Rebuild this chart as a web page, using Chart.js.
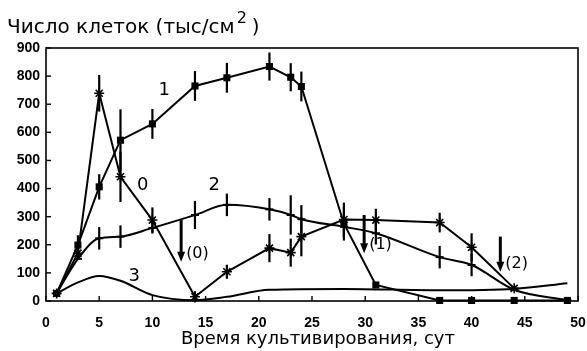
<!DOCTYPE html>
<html><head><meta charset="utf-8">
<script src="https://cdn.jsdelivr.net/npm/chart.js@4"></script>
<style>html,body{margin:0;padding:0;background:#fff}canvas{display:block}</style>
</head><body>
<canvas id="c" width="587" height="351"></canvas>
<script>
// ---- data ----
const days   = [1, 3, 5, 7, 10, 14, 17, 21, 23, 24, 28, 31, 37, 40, 44, 49];
const s1     = [27, 199, 406, 572, 630, 765, 794, 834, 796, 763, 275, 57, 2, 2, 2, 2];
const s1err  = [0, 35, 45, 110, 53, 53, 53, 50, 50, 53, 60, 10, 0, 0, 0, 0];
const s0     = [27, 170, 739, 442, 288, 15, 104, 188, 172, 229, 290, 288, 279, 191, 45, null];
const s0err  = [0, 20, 65, 90, 45, 20, 25, 50, 50, 70, 60, 40, 35, 50, 0, null];
const s2     = [27, 150, 223, 229, 260, 306, 342, 326, 306, 291, 264, 241, 156, 128, 40, 3];
const s2err  = [0, 0, 40, 40, 20, 50, 40, 40, 70, 50, 40, 40, 40, 40, 0, 0];
const days3  = [1, 3, 5, 7, 10, 14, 17, 21, 28, 37, 44, 49];
const s3     = [27, 66, 89, 72, 21, 3, 15, 40, 43, 38, 43, 63];
const xTicks = [0, 5, 10, 15, 20, 25, 30, 35, 40, 45, 50];
const yTicks = [0, 100, 200, 300, 400, 500, 600, 700, 800, 900];
const yTitle = 'Число клеток (тыс/см';
const yTitleSup = '2';
const xTitle = 'Время культивирования, сут';
const seriesNames = ['1', '0', '2', '3'];
const seriesNameAt = [[11.1, 751], [9.1, 413], [15.8, 413], [8.3, 86]];
const arrowLabels = ['(0)', '(1)', '(2)'];
const arrowDay = [12.7, 29.9, 42.7];
const arrowFrom = [288, 306, 229];
const arrowTo = [140, 170, 104];

const pts = (xs, ys) => xs.map((d, i) => ({x: d, y: ys[i]})).filter(p => p.y !== null);
const FONT = '"DejaVu Sans", sans-serif';

const decor = {
  id: 'decor',
  afterDatasetsDraw(chart) {
    const {ctx, scales: {x, y}} = chart;
    ctx.save();
    ctx.strokeStyle = '#000';
    ctx.lineWidth = 2.2;
    ctx.lineCap = 'butt';
    chart.data.datasets.forEach((ds) => {
      if (!ds.err) return;
      ds.data.forEach((p, i) => {
        const e = ds.err[i];
        if (!e) return;
        const px = x.getPixelForValue(p.x);
        ctx.beginPath();
        ctx.moveTo(px, y.getPixelForValue(p.y - e));
        ctx.lineTo(px, y.getPixelForValue(p.y + e));
        ctx.stroke();
      });
    });
    ctx.restore();
  },
  afterDraw(chart) {
    const {ctx, chartArea: a, scales: {x, y}} = chart;
    ctx.save();
    ctx.strokeStyle = '#000';
    ctx.fillStyle = '#000';
    ctx.lineWidth = 1.6;
    ctx.strokeRect(a.left, a.top, a.right - a.left, a.bottom - a.top);
    ctx.lineWidth = 1.4;
    xTicks.forEach(v => {
      const px = x.getPixelForValue(v);
      ctx.beginPath(); ctx.moveTo(px, a.bottom); ctx.lineTo(px, a.bottom - 5); ctx.stroke();
    });
    yTicks.forEach(v => {
      const py = y.getPixelForValue(v);
      ctx.beginPath(); ctx.moveTo(a.left, py); ctx.lineTo(a.left + 5, py); ctx.stroke();
    });
    // titles
    ctx.textBaseline = 'alphabetic';
    ctx.textAlign = 'left';
    ctx.font = '20px ' + FONT;
    ctx.fillText(yTitle, 7, 33);
    const w = ctx.measureText(yTitle).width;
    ctx.font = '16px ' + FONT;
    ctx.fillText(yTitleSup, 7 + w + 2, 23);
    ctx.font = '20px ' + FONT;
    ctx.fillText(')', 7 + w + 17, 33);
    ctx.textAlign = 'center';
    ctx.font = '18px ' + FONT;
    ctx.fillText(xTitle, 318, 344);
    // series names
    ctx.font = '18px ' + FONT;
    ctx.textBaseline = 'middle';
    seriesNames.forEach((t, i) => {
      ctx.fillText(t, x.getPixelForValue(seriesNameAt[i][0]), y.getPixelForValue(seriesNameAt[i][1]));
    });
    // arrows
    ctx.lineWidth = 3;
    ctx.font = '16px ' + FONT;
    ctx.textAlign = 'left';
    arrowLabels.forEach((t, i) => {
      const px = x.getPixelForValue(arrowDay[i]);
      const y0 = y.getPixelForValue(arrowFrom[i]);
      const y1 = y.getPixelForValue(arrowTo[i]);
      ctx.beginPath(); ctx.moveTo(px, y0); ctx.lineTo(px, y1 - 8); ctx.stroke();
      ctx.beginPath(); ctx.moveTo(px - 4, y1 - 10); ctx.lineTo(px + 4, y1 - 10); ctx.lineTo(px, y1); ctx.closePath(); ctx.fill();
      ctx.fillText(t, px + 5, y1 - 8);
    });
    ctx.restore();
  }
};

new Chart(document.getElementById('c'), {
  type: 'line',
  data: {
    datasets: [
      {data: pts(days, s1), err: s1err.filter((e, i) => s1[i] !== null), borderColor: '#000', backgroundColor: '#000', borderWidth: 2,
       tension: 0, pointStyle: 'rect', pointRadius: 5, pointBorderWidth: 0, clip: false},
      {data: pts(days, s0), err: s0err.filter((e, i) => s0[i] !== null), borderColor: '#000', backgroundColor: '#000', borderWidth: 2,
       tension: 0, pointStyle: 'star', pointRadius: 5, pointBorderWidth: 1.6, clip: false},
      {data: pts(days, s2), err: s2err, borderColor: '#000', backgroundColor: '#000', borderWidth: 2,
       cubicInterpolationMode: 'monotone', pointStyle: 'line', pointRadius: 4, pointBorderWidth: 2, clip: false},
      {data: pts(days3, s3), borderColor: '#000', borderWidth: 2,
       cubicInterpolationMode: 'monotone', pointRadius: 0, clip: false}
    ]
  },
  options: {
    responsive: false,
    animation: false,
    layout: {padding: {top: 48, right: 9, left: 0, bottom: 0}},
    plugins: {legend: {display: false}, tooltip: {enabled: false}},
    scales: {
      x: {type: 'linear', min: 0, max: 50,
          afterBuildTicks: s => { s.ticks = xTicks.map(v => ({value: v})); },
          afterFit: s => { s.height = 50; s.paddingLeft = 0; s.paddingRight = 0; },
          grid: {display: false, drawTicks: false}, border: {display: false},
          ticks: {color: '#000', padding: 14, maxRotation: 0, font: {family: '"Liberation Sans", sans-serif', size: 14, weight: 'bold'}}},
      y: {type: 'linear', min: 0, max: 900,
          afterBuildTicks: s => { s.ticks = yTicks.map(v => ({value: v})); },
          afterFit: s => { s.width = 46; s.paddingTop = 0; s.paddingBottom = 0; },
          grid: {display: false, drawTicks: false}, border: {display: false},
          ticks: {color: '#000', padding: 6, font: {family: '"Liberation Sans", sans-serif', size: 14, weight: 'bold'}}}
    }
  },
  plugins: [decor]
});
</script>
</body></html>
